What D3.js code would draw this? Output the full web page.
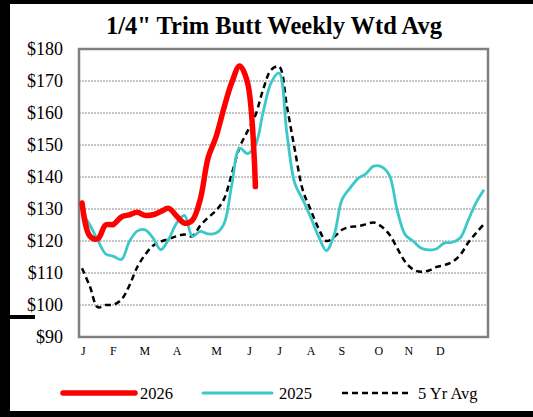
<!DOCTYPE html>
<html><head><meta charset="utf-8">
<script src="https://cdn.jsdelivr.net/npm/d3@7"></script>
<style>html,body{margin:0;padding:0;background:#fff}svg{display:block}</style>
</head><body>
<script>
const weeks = d3.range(1, 53);
const y2026 = [131.9,121.5,120.7,125,125.2,127.5,128.2,129,128,128.2,129.2,130.2,127.8,125.6,126.5,133,146,152.5,161.5,169.5,174.7,169.5,137];
const y2025 = [128.8,125,120.3,116,115.2,114.2,119.8,123.1,123.5,121,117.3,120.6,125.6,128,121.5,123,122.2,122.5,125.3,137.5,149,147.3,150,160.5,169.5,172.5,153.5,138,133,127.5,121.5,117,122,133,136.5,139.5,141,143.4,143.2,140.5,129.5,122,120,117.8,117.2,117.6,119.4,119.6,121,126.5,132,136];
const yAvg = [111.5,105.8,99.3,100,100.1,101.7,106,111.8,115.7,118.5,119.8,120.6,121.5,122,121.5,124.8,127.3,129.5,133,141,149.3,154.3,159.3,167.5,173.5,174.5,162,148.5,136,129.8,124,120,121.3,123.5,124.4,124.6,125.2,125.8,124.5,122,117.7,113.5,111.1,110.4,110.8,111.9,112.5,113.5,115.7,119.5,122.5,125.3];
const monthLabels = ["J","F","M","A","M","J","J","A","S","O","N","D"];
const monthWeeks = [1.1,4.9,8.9,13,18,22.2,26,30,33.9,38.6,42.4,46.4];
const yTicks = [90,100,110,120,130,140,150,160,170,180];
const seriesNames = ["2026","2025","5 Yr Avg"];

const W = 533, H = 417;
const svg = d3.select("body").append("svg").attr("width", W).attr("height", H);
const serif = "'Liberation Serif','Times New Roman',serif";

// outer border pieces
svg.append("rect").attr("x",0).attr("y",0).attr("width",W).attr("height",4).attr("fill","#000");
svg.append("rect").attr("x",0).attr("y",0).attr("width",10).attr("height",H).attr("fill","#000");
svg.append("rect").attr("x",0).attr("y",411).attr("width",W).attr("height",6).attr("fill","#000");
svg.append("rect").attr("x",0).attr("y",315).attr("width",35).attr("height",4).attr("fill","#000");

const L = 79, R = 488, T = 49, B = 337;
const x = d3.scaleLinear().domain([1,52]).range([82, 484]);
const y = d3.scaleLinear().domain([90,180]).range([B, T]);

// title
svg.append("text").attr("x", 274).attr("y", 34).attr("text-anchor","middle")
  .attr("font-family", serif).attr("font-weight","bold").attr("font-size", 24.5)
  .text('1/4" Trim Butt Weekly Wtd Avg');

// gridlines
svg.append("g").selectAll("line").data(yTicks.filter(d => d>90 && d<180)).join("line")
  .attr("x1", L).attr("x2", R).attr("y1", d=>y(d)).attr("y2", d=>y(d))
  .attr("stroke","#8a8a8a").attr("stroke-width",1).attr("stroke-dasharray","2,1");

// y axis labels
const yAxis = d3.axisLeft(y).tickValues(yTicks).tickFormat(d => "$" + d).tickSize(0).tickPadding(0);
const gy = svg.append("g").attr("transform", `translate(63,0)`).call(yAxis);
gy.select(".domain").remove();
gy.selectAll("text").attr("font-family", serif).attr("font-size", 18).attr("fill","#000");

// x axis labels
const xAxis = d3.axisBottom(x).tickValues(monthWeeks).tickFormat((d,i) => monthLabels[i]).tickSize(0).tickPadding(0);
const gx = svg.append("g").attr("transform", `translate(0,346)`).call(xAxis);
gx.select(".domain").remove();
gx.selectAll("text").attr("font-family", serif).attr("font-size", 12).attr("fill","#000");

// frame
svg.append("rect").attr("x", L).attr("y", T).attr("width", R-L).attr("height", B-T)
  .attr("fill","none").attr("stroke","#808080").attr("stroke-width",2.5);

const line = d3.line().x((d,i)=>x(weeks[i])).y(d=>y(d)).curve(d3.curveCatmullRom.alpha(0.5));
svg.append("path").datum(yAvg).attr("d", line).attr("fill","none").attr("stroke","#000")
  .attr("stroke-width",2.5).attr("stroke-dasharray","6,4");
svg.append("path").datum(y2025).attr("d", line).attr("fill","none").attr("stroke","#3cc8c8")
  .attr("stroke-width",2.8);
svg.append("path").datum(y2026).attr("d", line).attr("fill","none").attr("stroke","#ff0000")
  .attr("stroke-width",5.5).attr("stroke-linecap","round");

// legend
const lg = svg.append("g");
const legY = 393;
const items = [
  {name: seriesNames[0], x1:63, x2:135, color:"#ff0000", w:5.5, dash:null, tx:140},
  {name: seriesNames[1], x1:203, x2:272, color:"#3cc8c8", w:3, dash:null, tx:279},
  {name: seriesNames[2], x1:342, x2:411, color:"#000", w:2.5, dash:"6,4", tx:418}
];
items.forEach(it => {
  lg.append("line").attr("x1", it.x1).attr("x2", it.x2).attr("y1", legY).attr("y2", legY)
    .attr("stroke", it.color).attr("stroke-width", it.w).attr("stroke-dasharray", it.dash)
    .attr("stroke-linecap", it.dash ? "butt" : "round");
  lg.append("text").attr("x", it.tx).attr("y", legY+5.5).attr("font-family", serif)
    .attr("font-size", 16.5).text(it.name);
});
</script>
</body></html>
